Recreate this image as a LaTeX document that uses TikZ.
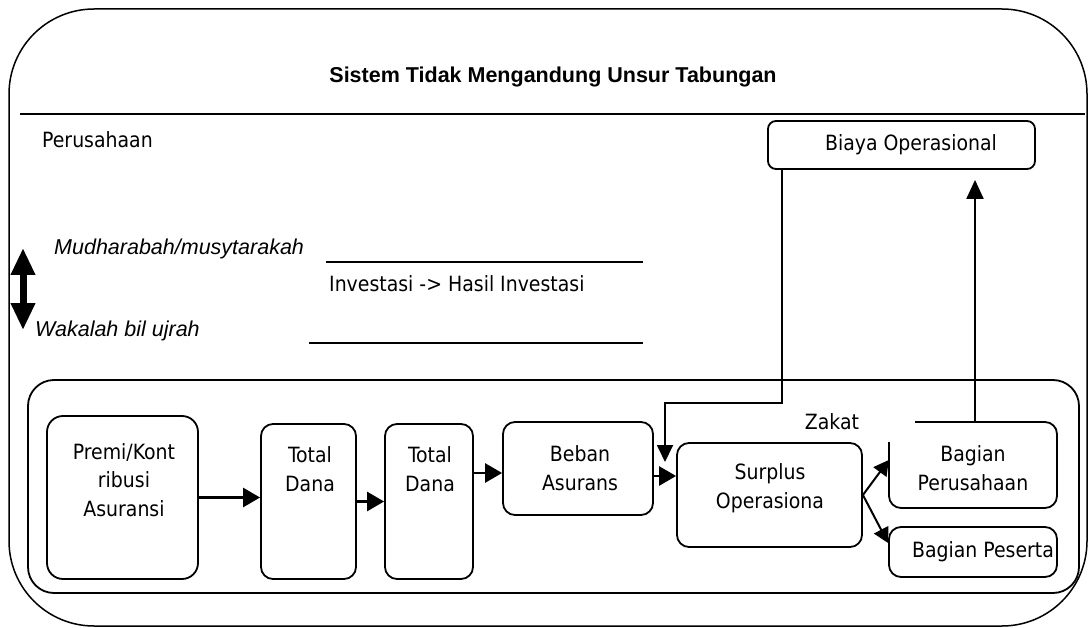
\documentclass[tikz,border=0pt]{standalone}
\usepackage{fontspec}
\newfontfamily\tah{DejaVu Sans Condensed}
\newfontfamily\ari{Liberation Sans}
\usetikzlibrary{arrows.meta}

\tikzset{
  box/.style={draw, line width=1.8pt, rounded corners=12pt, inner sep=0pt},
  txt/.style={font=\tah\fontsize{21}{28.5}\selectfont, align=center, inner sep=0pt},
  arr/.style={line width=2.6pt, -{Triangle[length=17pt,width=19pt]}},
  rule/.style={line width=1.8pt},
}

\begin{document}
\begin{tikzpicture}[x=1pt, y=-1pt]
\useasboundingbox (0,0) rectangle (1089,628);

% outer frame and header rule
\draw[line width=1.5pt, rounded corners=85pt] (9,9) rectangle (1087,626);
\draw[rule] (20,114) -- (1085,114);
\node[font=\ari\bfseries\fontsize{21.5}{25}\selectfont] (title) at (553,77) {Sistem Tidak Mengandung Unsur Tabungan};
\node[txt, anchor=west] (perusahaan) at (42,140) {Perusahaan};

% operating cost box
\node[box, rounded corners=8pt, minimum width=267pt, minimum height=48pt] (biaya) at (901.5,145) {};
\node[txt] (biayaT) at (911,145) {Biaya Operasional};

% investment contracts
\node[font=\ari\itshape\fontsize{21.5}{25}\selectfont, anchor=west, inner sep=0pt] (mudh) at (54,249) {Mudharabah/musytarakah};
\node[font=\ari\itshape\fontsize{21.5}{25}\selectfont, anchor=west, inner sep=0pt] (wakalah) at (35,331) {Wakalah bil ujrah};
\node[txt, anchor=west] (invest) at (329,284) {Investasi -> Hasil Investasi};
\coordinate (l1a) at (326,262); \coordinate (l1b) at (643,262);
\coordinate (l2a) at (309,343); \coordinate (l2b) at (643,343);
\draw[rule] (l1a) -- (l1b);
\draw[rule] (l2a) -- (l2b);
\coordinate (dtop) at (23,248); \coordinate (dbot) at (23,330);
\draw[line width=7pt, {Triangle[length=27pt,width=23pt]}-{Triangle[length=27pt,width=23pt]}] (dtop) -- (dbot);

% fund flow container
\draw[line width=1.8pt, rounded corners=26pt] (28,380) rectangle (1079,593);

\node[box, rounded corners=16pt, minimum width=151pt, minimum height=163pt] (premi) at (122.5,497.5) {};
\node[txt] (premiT) at (124,480) {Premi/Kont\\ribusi\\Asuransi};

\node[box, minimum width=95pt, minimum height=155pt] (td1) at (308.5,501.5) {};
\node[txt] (td1T) at (310,469) {Total\\Dana};

\node[box, minimum width=88pt, minimum height=155pt] (td2) at (429,501.5) {};
\node[txt] (td2T) at (430,469) {Total\\Dana};

\node[box, minimum width=150pt, minimum height=93pt] (beban) at (578,468.5) {};
\node[txt] (bebanT) at (580,468) {Beban\\Asurans};

\node[box, minimum width=185pt, minimum height=104pt] (surplus) at (769.5,495) {};
\node[txt] (surplusT) at (770,488) {Surplus\\Operasiona};

% company share box, open at its top-left corner
\node[minimum width=168pt, minimum height=86pt, inner sep=0pt] (bagp) at (973,465) {};
\coordinate (bagtop) at (975,422);
\draw[line width=1.8pt, rounded corners=12pt] (889,442) -- (889,508) -- (1057,508) -- (1057,422) -- (915,422);
\node[txt] (bagpT) at (973,468) {Bagian\\Perusahaan};

\node[box, minimum width=168pt, minimum height=50pt] (peserta) at (973,552) {};
\node[txt] (pesertaT) at (983,552) {Bagian Peserta};

\node[txt] (zakat) at (832,422) {Zakat};

% connectors
\draw[arr] (premi.east) -- (premi.east -| td1.west);
\draw[arr] (td1.east) -- (td1.east -| td2.west);
\draw[arr] ([yshift=-4.5pt]td2.east |- beban.west) -- ([yshift=-4.5pt]beban.west);
\draw[arr] ([yshift=-7.5pt]beban.east) -- ([yshift=-7.5pt]beban.east -| surplus.west);
\coordinate (feedturn) at (665,403);
\coordinate (feedtip) at (665,462);
\draw[line width=1.8pt, -{Triangle[length=17pt,width=16pt]}] ([xshift=15pt]biaya.south west) |- (feedturn) -- (feedtip);
\draw[line width=2pt, -{Triangle[length=19pt,width=17pt]}] (bagtop) -- ([yshift=-10pt]biaya.south -| bagtop);
\draw[line width=2pt, -{Triangle[length=15pt,width=16pt]}] (surplus.east) -- ([yshift=5pt]bagp.west);
\draw[line width=2pt, -{Triangle[length=15pt,width=16pt]}] (surplus.east) -- ([yshift=9pt]peserta.west);
\end{tikzpicture}
\end{document}
